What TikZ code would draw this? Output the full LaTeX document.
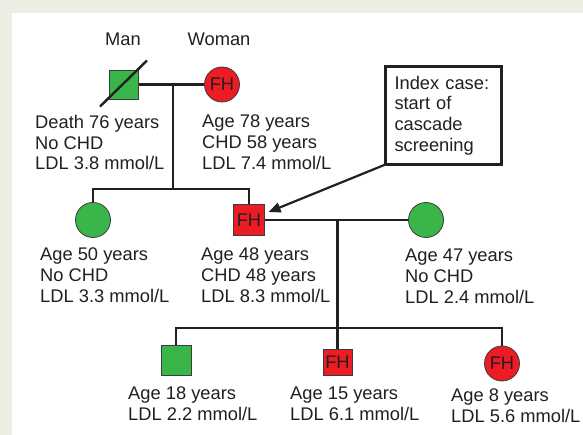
\documentclass[tikz,border=0pt]{standalone}
\usepackage{fontspec}
\setmainfont{Liberation Sans}
\usepackage{tikz}
\usetikzlibrary{arrows.meta,calc}
\definecolor{fhred}{RGB}{237,28,36}
\definecolor{okgreen}{RGB}{57,181,74}
\definecolor{paper}{RGB}{237,237,228}
\definecolor{rim}{RGB}{60,60,60}
\definecolor{ink}{RGB}{35,31,32}

\begin{document}
\begin{tikzpicture}[x=1pt,y=-1pt,
	every node/.style={font=\fontsize{18.3}{20.7}\selectfont,text=ink},
	sq/.style={draw=rim,line width=0.8pt,minimum size=29pt,inner sep=0pt},
	circ/.style={draw=rim,line width=0.8pt,circle,minimum size=35pt,inner sep=0pt},
	lbl/.style={anchor=north west,inner sep=0pt,align=left},
	link/.style={line width=2.8pt,draw=ink}]
				\useasboundingbox (0,0) rectangle (583,435);
				\fill[paper] (0,0) rectangle (583,435);
				\fill[white] (12,13) rectangle (583,435);
				
				\node[anchor=base] (mantag) at (123,46) {Man};
				\node[anchor=base] (womantag) at (219,46) {Woman};
				
				\node[sq,fill=okgreen] (man) at (124,84.5) {};
				\node[circ,fill=fhred] (woman) at (222,84.5) {FH};
				\node[circ,fill=okgreen] (sib) at (93,220) {};
				\node[sq,fill=fhred,minimum size=31pt] (index) at (249,220) {FH};
				\node[circ,fill=okgreen] (spouse) at (426,220) {};
				\node[sq,fill=okgreen,minimum size=30pt] (son) at (176,360) {};
				\node[sq,fill=fhred,minimum height=26pt] (kid) at (337.5,362) {FH};
				\node[circ,fill=fhred] (girl) at (502,363.5) {FH};
				
				\draw[line width=2.4pt,ink] ([shift={(-24,22)}]man.center) -- ([shift={(23,-24)}]man.center);
				
				\coordinate (top) at ($(man)!0.5!(woman)$);
				\coordinate (topdrop) at (173,189);
				\coordinate (mid) at ($(index)!0.5!(spouse)$);
				\coordinate (middrop) at (337.5,328);
				\draw[link] (man) -- (woman);
				\draw[link] (top) -- (topdrop);
				\draw[link] (sib) |- (topdrop) -| (index);
				\draw[link] (index) -- (spouse);
				\draw[link] (mid) -- (kid);
				\draw[link] (son) |- (middrop) -| (girl);
				
				\node[draw=ink,line width=3pt,outer sep=0pt,anchor=north west,align=left,text width=98pt,inner xsep=9pt,minimum width=116pt,minimum height=98pt] (note) at (385.5,66.5) {Index case:\\start of\\cascade\\screening};
				\draw[ink,-{Triangle[length=12pt,width=10pt]},line width=2.2pt,shorten >=4pt] (note.south west) -- (index);
				
				\node[lbl] (manlbl) at (35,115) {Death 76 years\\No CHD\\LDL 3.8 mmol/L};
				\node[lbl] (womanlbl) at (202,115) {Age 78 years\\CHD 58 years\\LDL 7.4 mmol/L};
				\node[lbl] (siblbl) at (40,248) {Age 50 years\\No CHD\\LDL 3.3 mmol/L};
				\node[lbl] (indexlbl) at (201,248) {Age 48 years\\CHD 48 years\\LDL 8.3 mmol/L};
				\node[lbl] (spouselbl) at (405,249) {Age 47 years\\No CHD\\LDL 2.4 mmol/L};
				\node[lbl] (sonlbl) at (128,387) {Age 18 years\\LDL 2.2 mmol/L};
				\node[lbl] (kidlbl) at (290,387) {Age 15 years\\LDL 6.1 mmol/L};
				\node[lbl] (girllbl) at (451,389) {Age 8 years\\LDL 5.6 mmol/L};
\end{tikzpicture}
\end{document}
